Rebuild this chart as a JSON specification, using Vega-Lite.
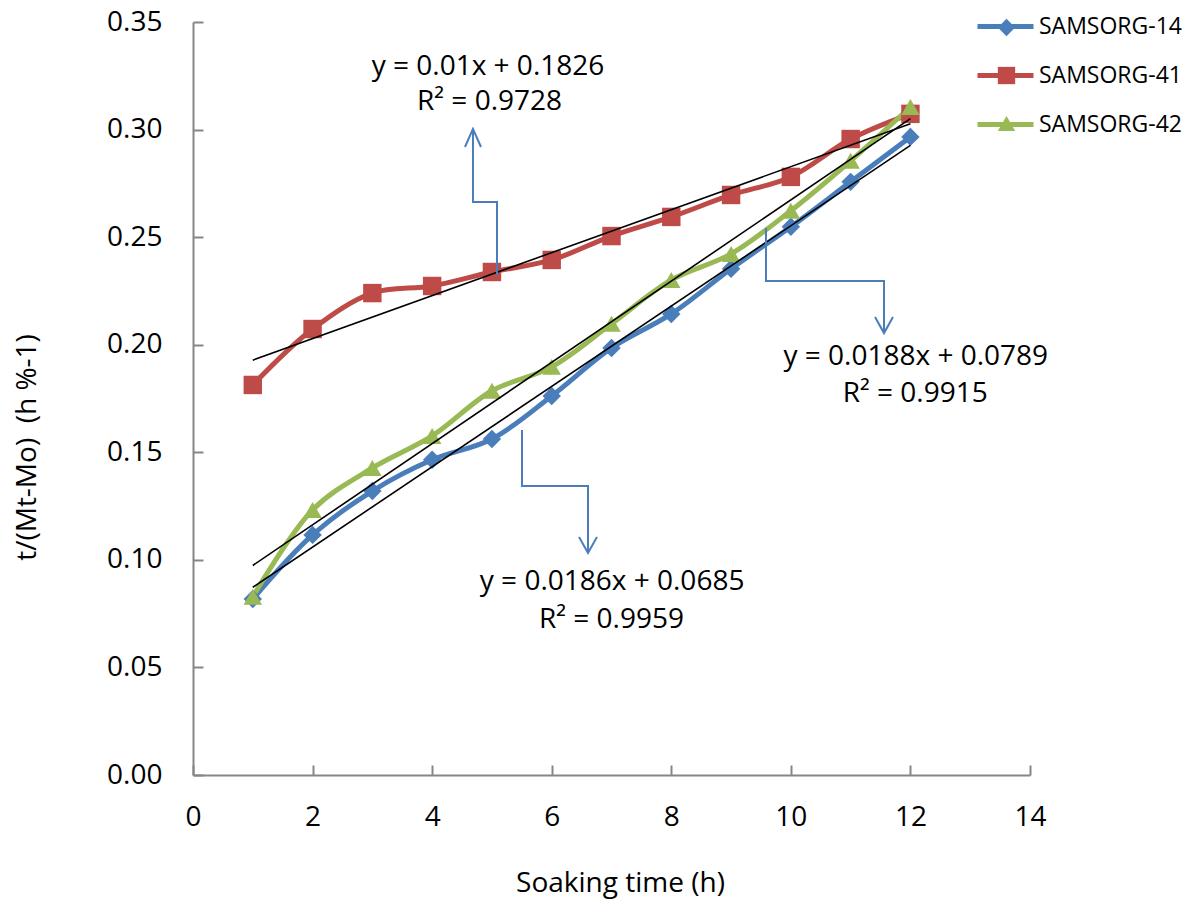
{
  "$schema": "https://vega.github.io/schema/vega-lite/v6.json",
  "width": 837,
  "height": 753,
  "autosize": {"type": "none"},
  "padding": {"left": 193, "top": 22, "right": 165, "bottom": 127},
  "background": "white",
  "config": {"view": {"stroke": null}, "font": "Open Sans"},
  "datasets": {
    "obs": [
      {"series": "SAMSORG-14", "x": 1, "y": 0.0818},
      {"series": "SAMSORG-14", "x": 2, "y": 0.1116},
      {"series": "SAMSORG-14", "x": 3, "y": 0.1320},
      {"series": "SAMSORG-14", "x": 4, "y": 0.1465},
      {"series": "SAMSORG-14", "x": 5, "y": 0.1562},
      {"series": "SAMSORG-14", "x": 6, "y": 0.1762},
      {"series": "SAMSORG-14", "x": 7, "y": 0.1985},
      {"series": "SAMSORG-14", "x": 8, "y": 0.2143},
      {"series": "SAMSORG-14", "x": 9, "y": 0.2353},
      {"series": "SAMSORG-14", "x": 10, "y": 0.2548},
      {"series": "SAMSORG-14", "x": 11, "y": 0.2757},
      {"series": "SAMSORG-14", "x": 12, "y": 0.2966},
      {"series": "SAMSORG-41", "x": 1, "y": 0.1813},
      {"series": "SAMSORG-41", "x": 2, "y": 0.2073},
      {"series": "SAMSORG-41", "x": 3, "y": 0.2240},
      {"series": "SAMSORG-41", "x": 4, "y": 0.2273},
      {"series": "SAMSORG-41", "x": 5, "y": 0.2338},
      {"series": "SAMSORG-41", "x": 6, "y": 0.2394},
      {"series": "SAMSORG-41", "x": 7, "y": 0.2505},
      {"series": "SAMSORG-41", "x": 8, "y": 0.2594},
      {"series": "SAMSORG-41", "x": 9, "y": 0.2696},
      {"series": "SAMSORG-41", "x": 10, "y": 0.2780},
      {"series": "SAMSORG-41", "x": 11, "y": 0.2956},
      {"series": "SAMSORG-41", "x": 12, "y": 0.3073},
      {"series": "SAMSORG-42", "x": 1, "y": 0.0828},
      {"series": "SAMSORG-42", "x": 2, "y": 0.1232},
      {"series": "SAMSORG-42", "x": 3, "y": 0.1427},
      {"series": "SAMSORG-42", "x": 4, "y": 0.1576},
      {"series": "SAMSORG-42", "x": 5, "y": 0.1786},
      {"series": "SAMSORG-42", "x": 6, "y": 0.1897},
      {"series": "SAMSORG-42", "x": 7, "y": 0.2097},
      {"series": "SAMSORG-42", "x": 8, "y": 0.2301},
      {"series": "SAMSORG-42", "x": 9, "y": 0.2422},
      {"series": "SAMSORG-42", "x": 10, "y": 0.2623},
      {"series": "SAMSORG-42", "x": 11, "y": 0.2855},
      {"series": "SAMSORG-42", "x": 12, "y": 0.3105}
    ],
    "arrows": [
      {"part": "a1-shaft", "k": 1, "x": 5.085, "y": 0.2324},
      {"part": "a1-shaft", "k": 2, "x": 5.085, "y": 0.2663},
      {"part": "a1-shaft", "k": 3, "x": 4.683, "y": 0.2663},
      {"part": "a1-shaft", "k": 4, "x": 4.683, "y": 0.3003},
      {"part": "a1-head", "k": 1, "x": 4.549, "y": 0.2919},
      {"part": "a1-head", "k": 2, "x": 4.683, "y": 0.3003},
      {"part": "a1-head", "k": 3, "x": 4.817, "y": 0.2919},
      {"part": "a2-shaft", "k": 1, "x": 9.584, "y": 0.2543},
      {"part": "a2-shaft", "k": 2, "x": 9.584, "y": 0.2296},
      {"part": "a2-shaft", "k": 3, "x": 11.558, "y": 0.2296},
      {"part": "a2-shaft", "k": 4, "x": 11.558, "y": 0.2054},
      {"part": "a2-head", "k": 1, "x": 11.408, "y": 0.2129},
      {"part": "a2-head", "k": 2, "x": 11.558, "y": 0.2054},
      {"part": "a2-head", "k": 3, "x": 11.708, "y": 0.2129},
      {"part": "a3-shaft", "k": 1, "x": 5.503, "y": 0.1604},
      {"part": "a3-shaft", "k": 2, "x": 5.503, "y": 0.1343},
      {"part": "a3-shaft", "k": 3, "x": 6.607, "y": 0.1343},
      {"part": "a3-shaft", "k": 4, "x": 6.607, "y": 0.1032},
      {"part": "a3-head", "k": 1, "x": 6.457, "y": 0.1106},
      {"part": "a3-head", "k": 2, "x": 6.607, "y": 0.1032},
      {"part": "a3-head", "k": 3, "x": 6.757, "y": 0.1106}
    ],
    "notes": [
      {"label": "y = 0.01x + 0.1826", "x": 4.934, "y": 0.3290},
      {"label": "R² = 0.9728", "x": 4.96, "y": 0.3128},
      {"label": "y = 0.0188x + 0.0789", "x": 12.09, "y": 0.1943},
      {"label": "R² = 0.9915", "x": 12.08, "y": 0.1771},
      {"label": "y = 0.0186x + 0.0685", "x": 7.01, "y": 0.0897},
      {"label": "R² = 0.9959", "x": 7.0, "y": 0.0720}
    ]
  },
  "layer": [
    {
      "data": {"name": "obs"},
      "mark": {"type": "line", "interpolate": "catmull-rom", "strokeWidth": 5, "strokeCap": "round", "strokeJoin": "round"},
      "encoding": {
        "x": {
          "field": "x", "type": "quantitative",
          "scale": {"domain": [0, 14], "nice": false, "zero": false},
          "axis": {
            "title": "Soaking time (h)", "values": [0, 2, 4, 6, 8, 10, 12, 14], "format": "d",
            "grid": false, "domainColor": "#868686", "domainWidth": 2,
            "tickColor": "#868686", "tickWidth": 2, "tickSize": -10,
            "labelFont": "Open Sans", "labelFontSize": 28, "labelColor": "black",
            "labelPadding": 52, "labelBaseline": "middle", "labelFlush": false,
            "titleFont": "Open Sans", "titleFontSize": 28, "titleFontWeight": "normal",
            "titleColor": "black", "titleX": 427, "titleY": 108, "titleBaseline": "middle"
          }
        },
        "y": {
          "field": "y", "type": "quantitative",
          "scale": {"domain": [0, 0.35], "nice": false},
          "axis": {
            "title": "t/(Mt-Mo) \u00a0(h %-1)", "values": [0, 0.05, 0.1, 0.15, 0.2, 0.25, 0.3, 0.35],
            "format": ".2f", "grid": false, "domainColor": "#868686", "domainWidth": 2,
            "tickColor": "#868686", "tickWidth": 2, "tickSize": -10,
            "labelFont": "Open Sans", "labelFontSize": 28, "labelColor": "black",
            "labelPadding": 41, "labelFlush": false,
            "titleFont": "Open Sans", "titleFontSize": 28, "titleFontWeight": "normal",
            "titleColor": "black", "titleX": -166, "titleY": 425, "titleAngle": 270,
            "titleBaseline": "middle", "titleAlign": "center"
          }
        },
        "color": {
          "field": "series", "type": "nominal",
          "scale": {"domain": ["SAMSORG-14", "SAMSORG-41", "SAMSORG-42"], "range": ["#4A7EBB", "#BE4B48", "#98B954"]},
          "legend": {
            "title": null, "orient": "none", "legendX": 782, "legendY": -26, "padding": 0,
            "symbolType": "stroke", "symbolSize": 3136, "symbolStrokeWidth": 5,
            "labelFont": "Open Sans", "labelFontSize": 23, "labelColor": "black",
            "labelOffset": 3, "rowPadding": 6
          }
        }
      }
    },
    {
      "data": {"name": "obs"},
      "mark": {"type": "point", "filled": true, "size": 340, "opacity": 1},
      "encoding": {
        "x": {"field": "x", "type": "quantitative"},
        "y": {"field": "y", "type": "quantitative"},
        "color": {
          "field": "series", "type": "nominal",
          "legend": {
            "title": null, "orient": "none", "legendX": 802, "legendY": -6, "padding": 0,
            "symbolSize": 300, "symbolStrokeWidth": 0, "symbolOpacity": 1,
            "labelFontSize": 23, "labelExpr": "''",
            "labelOffset": 3, "rowPadding": 24
          }
        },
        "shape": {
          "field": "series", "type": "nominal",
          "scale": {"domain": ["SAMSORG-14", "SAMSORG-41", "SAMSORG-42"], "range": ["diamond", "square", "triangle-up"]},
          "legend": {
            "title": null, "orient": "none", "legendX": 802, "legendY": -6, "padding": 0,
            "symbolSize": 300, "symbolStrokeWidth": 0, "symbolOpacity": 1,
            "labelFontSize": 23, "labelExpr": "''",
            "labelOffset": 3, "rowPadding": 24
          }
        }
      }
    },
    {
      "data": {"name": "obs"},
      "transform": [{"regression": "y", "on": "x", "groupby": ["series"], "extent": [1, 12]}],
      "mark": {"type": "line", "color": "black", "strokeWidth": 1.6},
      "encoding": {
        "x": {"field": "x", "type": "quantitative"},
        "y": {"field": "y", "type": "quantitative"},
        "detail": {"field": "series", "type": "nominal"}
      }
    },
    {
      "data": {"name": "arrows"},
      "mark": {"type": "line", "color": "#4A7EBB", "strokeWidth": 2},
      "encoding": {
        "x": {"field": "x", "type": "quantitative"},
        "y": {"field": "y", "type": "quantitative"},
        "detail": {"field": "part", "type": "nominal"},
        "order": {"field": "k", "type": "quantitative"}
      }
    },
    {
      "data": {"name": "notes"},
      "mark": {"type": "text", "font": "Open Sans", "fontSize": 28, "color": "black", "align": "center", "baseline": "middle"},
      "encoding": {
        "x": {"field": "x", "type": "quantitative"},
        "y": {"field": "y", "type": "quantitative"},
        "text": {"field": "label", "type": "nominal"}
      }
    }
  ],
  "resolve": {"legend": {"color": "independent", "shape": "independent"}}
}
